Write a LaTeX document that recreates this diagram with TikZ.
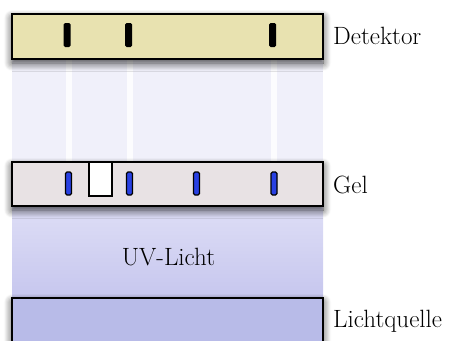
\documentclass[tikz,border=0pt]{standalone}
\usetikzlibrary{shadows.blur}
\definecolor{detfill}{RGB}{232,226,176}
\definecolor{gelfill}{RGB}{232,226,228}
\definecolor{srcfill}{RGB}{184,187,232}
\definecolor{bandblue}{RGB}{40,64,226}
\definecolor{lightup}{RGB}{240,240,250}
\definecolor{lightlowtop}{RGB}{222,222,246}
\definecolor{lightlowbot}{RGB}{198,198,238}
\tikzset{
  panel/.style={draw=black, line width=1.6pt, inner sep=0pt, minimum width=311pt,
    blur shadow={shadow xshift=0pt, shadow yshift=-4pt, shadow blur radius=8pt, shadow blur steps=12, shadow opacity=75}},
  detbar/.style={fill=black, rounded corners=1.5pt, inner sep=0pt, minimum width=7pt, minimum height=24pt},
  band/.style={draw=black, fill=bandblue, line width=1.1pt, rounded corners=1.5pt, inner sep=0pt, minimum width=6pt, minimum height=23pt},
  well/.style={draw=black, fill=white, line width=1.3pt, inner sep=0pt, minimum width=23pt, minimum height=34pt},
  lbl/.style={font=\fontsize{25}{30}\selectfont, inner sep=0pt},
  streak/.style={fill=white, opacity=0.8}
}
\begin{document}
\begin{tikzpicture}[x=1pt,y=-1pt]
\useasboundingbox (0,0) rectangle (457,340);
% light regions
\fill[lightup] (12,58) rectangle (323,163);
\fill[streak] (66,58) rectangle (72,163);
\fill[streak] (127,58) rectangle (133,163);
\fill[streak] (271,58) rectangle (277,163);
\shade[top color=lightlowtop, bottom color=lightlowbot] (12,205) rectangle (323,299);
% panels
\node[panel, fill=detfill, minimum height=45pt] (det) at (167.5,36.5) {};
\node[panel, fill=gelfill, minimum height=44pt] (gel) at (167.5,184) {};
\node[panel, fill=srcfill, minimum height=54pt] (src) at (167.5,325) {};
% detector bars
\node[detbar] (d1) at (67,35) {};
\node[detbar] (d2) at (128.5,35) {};
\node[detbar] (d3) at (272.5,35) {};
% gel bands and well
\node[band] (b1) at (68.5,183.5) {};
\node[well] (w1) at (100.5,179) {};
\node[band] (b2) at (129.5,183.5) {};
\node[band] (b3) at (196.5,183.5) {};
\node[band] (b4) at (274,183.5) {};
% labels
\node[lbl, anchor=base west] (ldet) at (333,44) {Detektor};
\node[lbl, anchor=base west] (lgel) at (333,193) {Gel};
\node[lbl, anchor=base west] (lsrc) at (333,327) {Lichtquelle};
\node[lbl, anchor=base] (luv) at (168.5,265) {UV-Licht};
\end{tikzpicture}
\end{document}
